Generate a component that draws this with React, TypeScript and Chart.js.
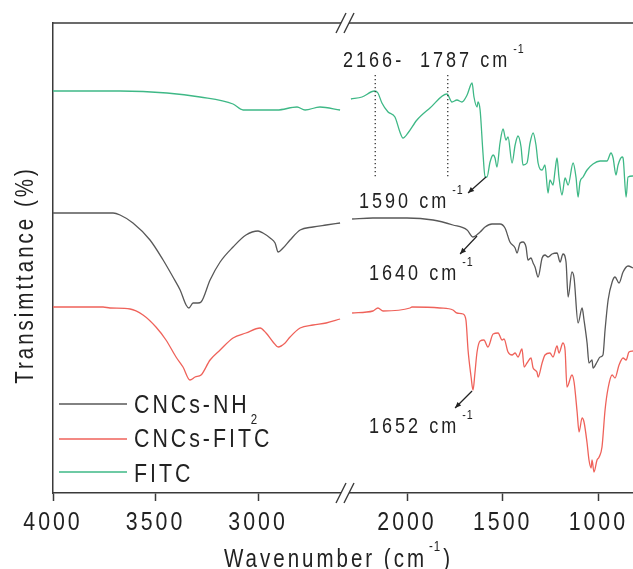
import React, { useEffect, useRef } from 'react';
import { Chart, registerables } from 'chart.js';
Chart.register(...registerables);

// ---------- data ----------
const seriesNames = ['CNCs-NH2', 'CNCs-FITC', 'FITC'];
const leftTicks = [4000, 3500, 3000];
const rightTicks = [2000, 1500, 1000];
const leftRange = [2576, 4000];
const rightRange = [819, 2324];
const yRange = [0, 470];

// FITC (green)
const fitcLeftWn = [4000, 3673, 3444, 3283, 3122, 3073, 2907, 2810, 2771, 2698, 2600];
const fitcLeftT = [402, 402, 400, 396, 389, 383, 383, 386, 383, 386, 383];
const fitcRightWn = [2293, 2235, 2170, 2152, 2131, 2099, 2063, 2037, 2021, 1995, 1948, 1880, 1791, 1765, 1739, 1713, 1686, 1660, 1650, 1634, 1629, 1618, 1603, 1592, 1582, 1566, 1550, 1540, 1530, 1514, 1498, 1483, 1472, 1451, 1435, 1420, 1404, 1394, 1373, 1357, 1341, 1326, 1315, 1294, 1279, 1263, 1253, 1237, 1226, 1216, 1206, 1190, 1174, 1158, 1132, 1117, 1106, 1096, 1080, 1059, 1028, 991, 955, 934, 923, 908, 897, 876, 871, 855, 845, 819];
const fitcRightT = [394, 396, 402, 400, 390, 381, 376, 361, 355, 360, 373, 385, 399, 391, 393, 391, 398, 410, 396, 386, 391, 383, 340, 316, 316, 331, 338, 335, 326, 350, 364, 353, 356, 330, 348, 357, 346, 328, 330, 350, 360, 348, 330, 323, 328, 300, 313, 308, 323, 335, 316, 298, 315, 308, 330, 316, 296, 311, 316, 323, 329, 332, 332, 340, 335, 318, 328, 336, 335, 296, 316, 317];

// CNCs-NH2 (grey)
const nh2LeftWn = [4000, 3707, 3673, 3610, 3527, 3463, 3415, 3380, 3351, 3337, 3317, 3293, 3278, 3234, 3185, 3122, 3059, 3000, 2976, 2941, 2917, 2902, 2878, 2844, 2795, 2732, 2668, 2600];
const nh2LeftT = [280, 280, 278, 270, 253, 233, 216, 203, 188, 185, 190, 190, 191, 213, 231, 246, 258, 262, 260, 255, 250, 241, 245, 253, 263, 266, 268, 270];
const nh2RightWn = [2287, 2178, 2000, 1864, 1760, 1686, 1655, 1618, 1592, 1556, 1514, 1488, 1462, 1435, 1425, 1409, 1394, 1378, 1368, 1352, 1341, 1331, 1315, 1294, 1279, 1263, 1242, 1216, 1200, 1185, 1169, 1158, 1138, 1127, 1106, 1085, 1075, 1059, 1049, 1033, 1028, 1007, 991, 976, 965, 949, 928, 913, 892, 871, 845, 819];
const nh2RightT = [274, 275, 275, 273, 268, 263, 256, 261, 266, 269, 269, 265, 251, 245, 240, 250, 251, 246, 233, 235, 230, 226, 216, 235, 238, 236, 239, 240, 231, 239, 231, 196, 221, 215, 170, 185, 173, 150, 130, 133, 125, 131, 136, 138, 163, 193, 211, 216, 210, 221, 227, 225];

// CNCs-FITC (red)
const cfLeftWn = [4000, 3756, 3722, 3624, 3561, 3498, 3449, 3400, 3366, 3332, 3307, 3278, 3234, 3185, 3122, 3059, 2990, 2961, 2927, 2902, 2868, 2844, 2795, 2732, 2668, 2600];
const cfLeftT = [186, 186, 185, 184, 178, 166, 153, 136, 126, 113, 116, 118, 133, 143, 155, 160, 165, 160, 151, 146, 150, 156, 165, 168, 170, 174];
const cfRightWn = [2287, 2178, 2152, 2125, 1984, 1974, 1828, 1760, 1739, 1707, 1692, 1681, 1665, 1655, 1645, 1634, 1618, 1598, 1577, 1550, 1524, 1503, 1493, 1472, 1451, 1435, 1420, 1399, 1388, 1373, 1352, 1341, 1321, 1315, 1294, 1279, 1253, 1237, 1216, 1206, 1185, 1174, 1164, 1138, 1127, 1111, 1101, 1085, 1075, 1059, 1049, 1038, 1033, 1023, 1007, 996, 981, 965, 949, 928, 913, 892, 871, 855, 840, 819];
const cfRightT = [180, 182, 185, 182, 185, 186, 185, 183, 180, 179, 173, 143, 116, 103, 120, 141, 152, 153, 146, 159, 160, 153, 154, 141, 138, 140, 136, 144, 126, 130, 135, 125, 121, 116, 130, 138, 140, 136, 147, 140, 150, 143, 106, 118, 111, 81, 61, 75, 71, 50, 33, 25, 33, 21, 33, 36, 46, 83, 105, 118, 115, 128, 135, 133, 141, 142];

// annotations
const markerWn = [2166, 1787];
const markerTop = 418;
const markerBottom = 314;
const peakLabels = ['1590', '1640', '1652'];
const arrowWn = [1587, 1634, 1660];
const arrowT = [316, 257, 102];

// ---------- styles ----------
const FONT = "'Liberation Sans', Arial, sans-serif";
const SX = 0.82; // horizontal condensation of the text
const FRAME = '#3a3a3a';
const TEXT = '#222222';
const COLORS = ['rgb(88,88,88)', 'rgb(239,98,90)', 'rgb(62,184,134)'];

const zip = (xs: number[], ys: number[]) => xs.map((x, i) => ({ x, y: ys[i] }));

function txt(ctx: CanvasRenderingContext2D, s: string, x: number, y: number, size: number, spacing: number, align: CanvasTextAlign = 'left') {
  ctx.save();
  ctx.font = `${size}px ${FONT}`;
  (ctx as any).letterSpacing = `${spacing / SX}px`;
  ctx.textAlign = align;
  ctx.textBaseline = 'alphabetic';
  ctx.translate(x, y);
  ctx.scale(SX, 1);
  ctx.fillText(s, 0, 0);
  const w = ctx.measureText(s).width * SX;
  ctx.restore();
  return w;
}

function arrow(ctx: CanvasRenderingContext2D, x1: number, y1: number, x2: number, y2: number) {
  ctx.beginPath();
  ctx.moveTo(x1, y1);
  ctx.lineTo(x2, y2);
  ctx.stroke();
  const a = Math.atan2(y2 - y1, x2 - x1);
  const L = 6, W = 2.6;
  ctx.beginPath();
  ctx.moveTo(x2, y2);
  ctx.lineTo(x2 - L * Math.cos(a) + W * Math.sin(a), y2 - L * Math.sin(a) - W * Math.cos(a));
  ctx.lineTo(x2 - L * Math.cos(a) - W * Math.sin(a), y2 - L * Math.sin(a) + W * Math.cos(a));
  ctx.closePath();
  ctx.fill();
}

const decor = {
  id: 'decor',
  afterDraw(chart: any) {
    const { ctx, chartArea, scales } = chart;
    const xR = scales.xR, xL = scales.xL, y = scales.y;
    ctx.save();
    // top frame line
    ctx.strokeStyle = FRAME;
    ctx.lineWidth = 1.5;
    ctx.beginPath();
    ctx.moveTo(chartArea.left, chartArea.top);
    ctx.lineTo(chartArea.right, chartArea.top);
    ctx.stroke();
    // axis break marks
    const bx = xL.right;
    for (const yy of [chartArea.top, chartArea.bottom]) {
      ctx.fillStyle = '#ffffff';
      ctx.fillRect(bx - 4, yy - 2, 8, 4);
      ctx.strokeStyle = FRAME;
      ctx.lineWidth = 1.4;
      for (const sx of [bx - 4, bx + 4]) {
        ctx.beginPath();
        ctx.moveTo(sx - 5, yy + 10);
        ctx.lineTo(sx + 5, yy - 10);
        ctx.stroke();
      }
    }
    // tick labels from the scales' ticks
    ctx.fillStyle = TEXT;
    for (const sc of [xL, xR]) {
      for (const t of sc.ticks) {
        txt(ctx, String(t.value), sc.getPixelForValue(t.value), 530, 26, 3, 'center');
      }
    }
    // dotted marker lines
    ctx.strokeStyle = '#333';
    ctx.lineWidth = 1.3;
    ctx.setLineDash([1.3, 2.7]);
    for (const wn of markerWn) {
      const px = xR.getPixelForValue(wn);
      ctx.beginPath();
      ctx.moveTo(px, y.getPixelForValue(markerTop));
      ctx.lineTo(px, y.getPixelForValue(markerBottom));
      ctx.stroke();
    }
    ctx.setLineDash([]);
    // arrows
    const deltas = [[-18, 16], [-17, 18], [-17, 17]];
    ctx.strokeStyle = '#222';
    ctx.fillStyle = '#222';
    ctx.lineWidth = 1.2;
    arrowWn.forEach((wn, i) => {
      const x1 = xR.getPixelForValue(wn);
      const y1 = y.getPixelForValue(arrowT[i]);
      arrow(ctx, x1, y1, x1 + deltas[i][0], y1 + deltas[i][1]);
    });
    // annotation text
    ctx.fillStyle = TEXT;
    txt(ctx, `${markerWn[0]}-`, 343, 67, 22, 3);
    const w = txt(ctx, `${markerWn[1]} cm`, 420, 67, 22, 3);
    txt(ctx, '-1', 420 + w + 3, 53, 13, 1);
    const labelPos = [[359, 208], [369, 280], [369, 433]];
    peakLabels.forEach((lab, i) => {
      const [lx, ly] = labelPos[i];
      const ww = txt(ctx, `${lab} cm`, lx, ly, 22, 3);
      txt(ctx, '-1', lx + ww + 3, ly - 14, 13, 1);
    });
    // legend
    const legY = [404, 439, 472];
    const legBase = [413, 447, 482];
    seriesNames.forEach((name, i) => {
      ctx.strokeStyle = COLORS[i];
      ctx.lineWidth = 1.4;
      ctx.beginPath();
      ctx.moveTo(59, legY[i]);
      ctx.lineTo(127, legY[i]);
      ctx.stroke();
      ctx.fillStyle = TEXT;
      const m = name.match(/^(.*?)(\d)$/);
      if (m) {
        const ww = txt(ctx, m[1], 134, legBase[i], 26, 3);
        txt(ctx, m[2], 134 + ww + 1, legBase[i] + 11, 14, 0);
      } else {
        txt(ctx, name, 134, legBase[i], 26, 3);
      }
    });
    // y title
    ctx.save();
    ctx.translate(33, 275);
    ctx.rotate(-Math.PI / 2);
    ctx.fillStyle = TEXT;
    txt(ctx, 'Transimttance (%)', 0, 0, 25, 3, 'center');
    ctx.restore();
    // x title
    ctx.fillStyle = TEXT;
    const xw = txt(ctx, 'Wavenumber (cm', 224, 567, 25, 3);
    const sw = txt(ctx, '-1', 224 + xw + 2, 551, 14, 1);
    txt(ctx, ')', 224 + xw + 2 + sw + 2, 567, 25, 3);
    ctx.restore();
  },
};

function xAxis(range: number[], ticks: number[], weight: number) {
  return {
    type: 'linear',
    position: 'bottom',
    stack: 'wn',
    stackWeight: weight,
    reverse: true,
    min: range[0],
    max: range[1],
    afterBuildTicks: (s: any) => {
      s.ticks = ticks.map((v) => ({ value: v }));
    },
    afterFit: (s: any) => {
      s.height = 76;
      s.paddingLeft = 0;
      s.paddingRight = 0;
    },
    grid: { drawOnChartArea: false, drawTicks: true, tickLength: 8, tickWidth: 1.5, tickColor: FRAME },
    border: { color: FRAME, width: 1.5 },
    ticks: { display: false },
  };
}

export default function App() {
  const ref = useRef<HTMLCanvasElement>(null);
  useEffect(() => {
    const mk = (label: string, color: string, axis: string, xs: number[], ys: number[]) => ({
      label,
      data: zip(xs, ys),
      xAxisID: axis,
      yAxisID: 'y',
      borderColor: color,
      borderWidth: 1.3,
      pointRadius: 0,
      fill: false,
      cubicInterpolationMode: 'monotone',
    });
    const chart = new Chart(ref.current as HTMLCanvasElement, {
      type: 'line',
      data: {
        datasets: [
          mk(seriesNames[0], COLORS[0], 'xL', nh2LeftWn, nh2LeftT),
          mk(seriesNames[0], COLORS[0], 'xR', nh2RightWn, nh2RightT),
          mk(seriesNames[1], COLORS[1], 'xL', cfLeftWn, cfLeftT),
          mk(seriesNames[1], COLORS[1], 'xR', cfRightWn, cfRightT),
          mk(seriesNames[2], COLORS[2], 'xL', fitcLeftWn, fitcLeftT),
          mk(seriesNames[2], COLORS[2], 'xR', fitcRightWn, fitcRightT),
        ] as any,
      },
      options: {
        responsive: false,
        animation: false,
        layout: { padding: { top: 23, right: 0, left: 0, bottom: 0 } },
        plugins: { legend: { display: false }, tooltip: { enabled: false } },
        scales: {
          xL: xAxis(leftRange, leftTicks, 292),
          xR: xAxis(rightRange, rightTicks, 288),
          y: {
            type: 'linear',
            position: 'left',
            min: yRange[0],
            max: yRange[1],
            afterFit: (s: any) => {
              s.width = 53;
            },
            ticks: { display: false },
            grid: { drawOnChartArea: false, drawTicks: false },
            border: { color: FRAME, width: 1.5 },
          },
        } as any,
      },
      plugins: [decor],
    } as any);
    return () => chart.destroy();
  }, []);
  return (
    <div style={{ position: 'fixed', left: 0, top: 0, width: 633, height: 569, background: '#fff' }}>
      <canvas ref={ref} width={633} height={569} style={{ display: 'block' }} />
    </div>
  );
}
